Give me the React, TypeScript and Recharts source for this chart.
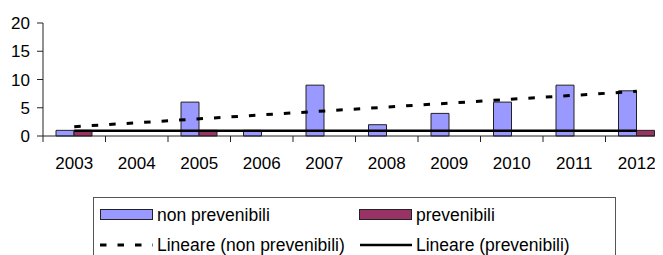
import React from 'react';
import { ComposedChart, Bar, Line, XAxis, YAxis, Legend } from 'recharts';

const years = ['2003', '2004', '2005', '2006', '2007', '2008', '2009', '2010', '2011', '2012'];
const nonPrevenibili = [1, 0, 6, 1, 9, 2, 4, 6, 9, 8];
const prevenibili = [1, 0, 1, 0, 0, 0, 0, 0, 0, 1];
// trend lines: only the two ends are given, the line joins them
const lineareNonPrev = [1.65, null, null, null, null, null, null, null, null, 7.9];
const linearePrev = [0.95, null, null, null, null, null, null, null, null, 0.95];
const yTicks = [0, 5, 10, 15, 20];

const data = years.map((year, i) => ({
    year,
    nonPrev: nonPrevenibili[i],
    prev: prevenibili[i],
    trendNonPrev: lineareNonPrev[i],
    trendPrev: linearePrev[i],
}));

const FONT = '"Liberation Sans", Arial, sans-serif';
const AXIS = '#222';
const BLUE = '#9999FF';
const MAROON = '#993366';
const DASH = '6.5 11';

const YearTick = (props: any) => {
    const { x, y, payload, index } = props;
    const half = payload && payload.offset ? payload.offset : 31.25;
    return (
        <g>
            <line x1={x - half} y1={y - 6} x2={x - half} y2={y} stroke={AXIS} />
            {index === years.length - 1 && (
                <line x1={x + half} y1={y - 6} x2={x + half} y2={y} stroke={AXIS} />
            )}
            <text x={x} y={y + 27} textAnchor="middle" fontSize={17} fontFamily={FONT} fill="#000">
                {payload.value}
            </text>
        </g>
    );
};

const legendItems = [
    { label: 'non prevenibili', kind: 'bar', color: BLUE },
    { label: 'prevenibili', kind: 'bar', color: MAROON },
    { label: 'Lineare (non prevenibili)', kind: 'dash', color: '#000' },
    { label: 'Lineare (prevenibili)', kind: 'solid', color: '#000' },
];

const LegendBox = () => (
    <div
        style={{
            width: 523,
            height: 80,
            border: '1px solid #555',
            boxSizing: 'border-box',
            position: 'relative',
            fontFamily: FONT,
            fontSize: 17.5,
            color: '#000',
        }}
    >
        {legendItems.map((item, i) => {
            const col = i % 2;
            const row = Math.floor(i / 2);
            return (
                <div
                    key={item.label}
                    style={{
                        position: 'absolute',
                        left: 6 + col * 259,
                        top: row === 0 ? 5 : 35,
                        height: 24,
                        display: 'flex',
                        alignItems: 'center',
                        whiteSpace: 'nowrap',
                    }}
                >
                    <svg width={53} height={14} style={{ marginRight: 4 }}>
                        {item.kind === 'bar' && (
                            <rect x={0.5} y={1.5} width={52} height={10} fill={item.color} stroke="#222" />
                        )}
                        {item.kind === 'dash' && (
                            <line x1={0} y1={7} x2={53} y2={7} stroke="#000" strokeWidth={3} strokeDasharray={DASH} />
                        )}
                        {item.kind === 'solid' && (
                            <line x1={1} y1={7} x2={53} y2={7} stroke="#000" strokeWidth={2.5} />
                        )}
                    </svg>
                    <span>{item.label}</span>
                </div>
            );
        })}
    </div>
);

export default function App() {
    return (
        <div style={{ position: 'absolute', left: 0, top: 0, width: 655, height: 255, overflow: 'hidden', background: '#fff' }}>
            <ComposedChart
                width={670}
                height={255}
                data={data}
                margin={{ top: 23, right: 2, bottom: 89, left: 0 }}
                barCategoryGap={13}
                barGap={0}
            >
                <XAxis
                    dataKey="year"
                    interval={0}
                    height={30}
                    tickSize={6}
                    tickMargin={0}
                    tickLine={false}
                    axisLine={{ stroke: AXIS }}
                    tick={<YearTick />}
                />
                <YAxis
                    width={43}
                    domain={[0, 20]}
                    ticks={yTicks}
                    interval={0}
                    tickSize={6}
                    tickMargin={7}
                    axisLine={{ stroke: AXIS }}
                    tickLine={{ stroke: AXIS }}
                    tick={{ fill: '#000', fontSize: 17, fontFamily: FONT }}
                />
                <Legend
                    layout="horizontal"
                    verticalAlign="middle"
                    align="center"
                    content={<LegendBox />}
                    wrapperStyle={{ position: 'absolute', left: 93, top: 197, width: 523 }}
                />
                <Bar dataKey="nonPrev" name="non prevenibili" fill={BLUE} stroke="#222" strokeWidth={1} isAnimationActive={false} />
                <Bar dataKey="prev" name="prevenibili" fill={MAROON} stroke="#222" strokeWidth={1} isAnimationActive={false} />
                <Line
                    dataKey="trendNonPrev"
                    name="Lineare (non prevenibili)"
                    type="linear"
                    stroke="#000"
                    strokeWidth={3}
                    strokeDasharray={DASH}
                    dot={false}
                    activeDot={false}
                    connectNulls
                    isAnimationActive={false}
                />
                <Line
                    dataKey="trendPrev"
                    name="Lineare (prevenibili)"
                    type="linear"
                    stroke="#000"
                    strokeWidth={2.5}
                    dot={false}
                    activeDot={false}
                    connectNulls
                    isAnimationActive={false}
                />
            </ComposedChart>
        </div>
    );
}
